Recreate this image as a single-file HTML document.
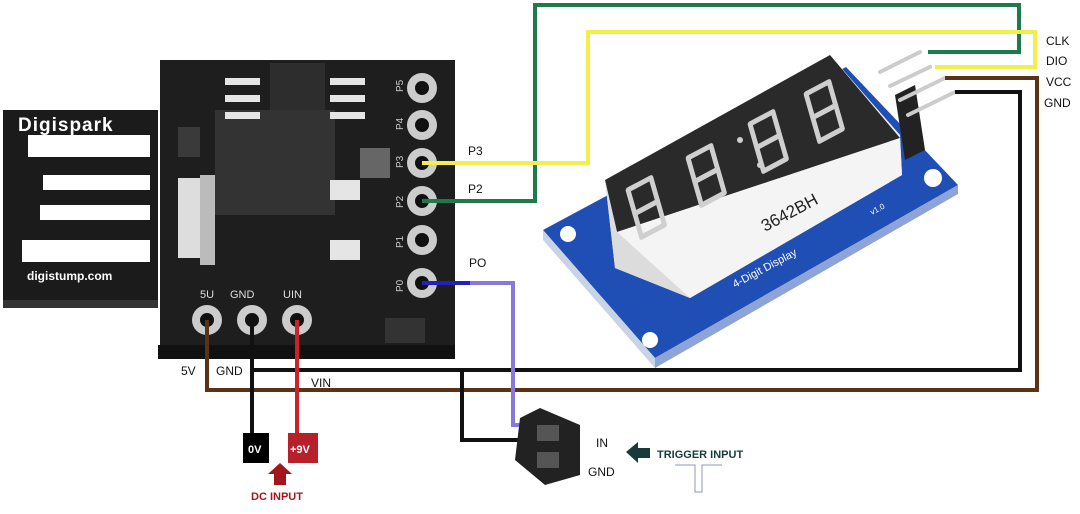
<!DOCTYPE html>
<html><head><meta charset="utf-8"><style>
html,body{margin:0;padding:0;background:#fff;}
svg{display:block;font-family:"Liberation Sans",sans-serif;}
</style></head><body>
<svg width="1080" height="514" viewBox="0 0 1080 514" xmlns="http://www.w3.org/2000/svg">
<rect width="1080" height="514" fill="#fff"/>
<!-- Display module -->
<polygon points="543,230 846,67 958,185 655,358" fill="#1f4fb5"/>
<polygon points="543,230 655,358 655,368 543,240" fill="#c9d3e6"/>
<polygon points="655,358 958,185 958,194 655,368" fill="#8ea4d6"/>
<circle cx="568" cy="234" r="8" fill="#fff"/>
<circle cx="650" cy="340" r="8" fill="#fff"/>
<circle cx="933" cy="178" r="9" fill="#fff"/>
<!-- display block -->
<polygon points="605,180 830,55 900,135 902,175 690,298 615,268" fill="#ececec"/>
<polygon points="605,180 830,55 900,138 617,232" fill="#2a2a2a"/>
<polygon points="617,232 900,138 902,175 690,298" fill="#f4f4f4"/>
<polygon points="605,180 617,232 690,298 615,268" fill="#dcdcdc"/>
<g fill="none" stroke="#cfcfcf" stroke-width="5" stroke-linejoin="round">
<g transform="translate(628,190) rotate(-28) skewX(-12)"><rect x="0" y="0" width="26" height="24"/><rect x="0" y="24" width="26" height="24"/></g>
<g transform="translate(688,158) rotate(-28) skewX(-12)"><rect x="0" y="0" width="26" height="24"/><rect x="0" y="24" width="26" height="24"/></g>
<g transform="translate(750,124) rotate(-28) skewX(-12)"><rect x="0" y="0" width="26" height="24"/><rect x="0" y="24" width="26" height="24"/></g>
<g transform="translate(806,94) rotate(-28) skewX(-12)"><rect x="0" y="0" width="26" height="24"/><rect x="0" y="24" width="26" height="24"/></g>
</g>
<circle cx="740" cy="140" r="3" fill="#cfcfcf"/><circle cx="760" cy="165" r="3" fill="#cfcfcf"/>
<text x="0" y="0" font-size="17" fill="#222" transform="translate(765,232) rotate(-28)">3642BH</text>
<text x="0" y="0" font-size="11" fill="#fff" transform="translate(735,288) rotate(-28)">4-Digit Display</text>
<text x="0" y="0" font-size="8" fill="#fff" transform="translate(872,215) rotate(-28)">v1.0</text>
<!-- header -->
<polygon points="895,95 915,85 925,150 905,160" fill="#222"/>
<g stroke="#ccc" stroke-width="4" stroke-linecap="round">
<line x1="880" y1="72" x2="920" y2="52"/><line x1="890" y1="86" x2="930" y2="67"/>
<line x1="900" y1="100" x2="945" y2="78"/><line x1="908" y1="115" x2="955" y2="92"/>
</g>
<!-- Digispark USB tab -->
<rect x="3" y="110" width="155" height="190" fill="#1b1b1b"/>
<rect x="3" y="300" width="155" height="8" fill="#333"/>
<text x="18" y="131" font-size="19" font-weight="bold" fill="#fff" letter-spacing="1">Digispark</text>
<rect x="28" y="135" width="122" height="22" fill="#fff"/>
<rect x="43" y="175" width="107" height="15" fill="#fff"/>
<rect x="40" y="205" width="110" height="15" fill="#fff"/>
<rect x="22" y="240" width="128" height="22" fill="#fff"/>
<text x="27" y="280" font-size="12" font-weight="bold" fill="#fff">digistump.com</text>
<!-- board -->
<rect x="160" y="60" width="295" height="298" fill="#1e1e1e"/>
<rect x="158" y="345" width="297" height="14" fill="#111"/>
<rect x="270" y="63" width="55" height="70" fill="#2d2d2d"/>
<rect x="215" y="110" width="120" height="105" fill="#333"/>
<rect x="178" y="127" width="22" height="30" fill="#3a3a3a"/>
<rect x="178" y="178" width="30" height="80" fill="#ddd"/>
<rect x="200" y="175" width="15" height="90" fill="#bbb"/>
<g fill="#e5e5e5"><rect x="225" y="78" width="35" height="7"/><rect x="225" y="95" width="35" height="7"/><rect x="225" y="112" width="35" height="7"/><rect x="330" y="78" width="35" height="7"/><rect x="330" y="95" width="35" height="7"/><rect x="330" y="112" width="35" height="7"/><rect x="330" y="180" width="30" height="20"/><rect x="330" y="240" width="30" height="20"/><rect x="360" y="148" width="30" height="30" fill="#666"/></g>
<text x="200" y="298" font-size="11" fill="#ddd">5U</text>
<text x="230" y="298" font-size="11" fill="#ddd">GND</text>
<text x="283" y="298" font-size="11" fill="#ddd">UIN</text>
<g fill="#ccc"><circle cx="207" cy="320" r="15"/><circle cx="252" cy="320" r="15"/><circle cx="297" cy="320" r="15"/></g>
<g fill="#111"><circle cx="207" cy="320" r="7"/><circle cx="252" cy="320" r="7"/><circle cx="297" cy="320" r="7"/></g>
<g fill="#ccc"><circle cx="422" cy="88" r="15"/><circle cx="422" cy="125" r="15"/><circle cx="422" cy="163" r="15"/><circle cx="422" cy="201" r="15"/><circle cx="422" cy="240" r="15"/><circle cx="422" cy="283" r="15"/></g>
<g fill="#111"><circle cx="422" cy="88" r="7"/><circle cx="422" cy="125" r="7"/><circle cx="422" cy="163" r="7"/><circle cx="422" cy="201" r="7"/><circle cx="422" cy="240" r="7"/><circle cx="422" cy="283" r="7"/></g>
<g font-size="10" fill="#ccc"><text transform="translate(403,92) rotate(-90)">P5</text><text transform="translate(403,130) rotate(-90)">P4</text><text transform="translate(403,168) rotate(-90)">P3</text><text transform="translate(403,208) rotate(-90)">P2</text><text transform="translate(403,248) rotate(-90)">P1</text><text transform="translate(403,292) rotate(-90)">P0</text></g>
<rect x="385" y="318" width="40" height="25" fill="#333"/>
<!-- wires -->
<g fill="none" stroke-width="4" stroke-linejoin="miter">
<polyline points="422,201 535,201 535,5 1019,5 1019,52 928,52" stroke="#1e7a4a"/>
<polyline points="422,163 588,163 588,32 1035,32 1035,67 935,67" stroke="#f2ef4a"/>
<polyline points="945,78 1037,78 1037,390 207,390 207,320" stroke="#5a3216"/>
<polyline points="955,92 1020,92 1020,370 252,370" stroke="#111"/>
<polyline points="252,320 252,440" stroke="#111"/>
<polyline points="462,370 462,440 520,440" stroke="#111"/>
<polyline points="297,320 297,435" stroke="#d0202a"/>
<polyline points="422,283 513,283 513,425 522,425" stroke="#8877dd"/>
<polyline points="422,283 470,283" stroke="#2222bb"/>
</g>
<!-- labels -->
<g font-size="12" fill="#111">
<text x="468" y="155">P3</text><text x="468" y="193">P2</text><text x="469" y="267">PO</text>
<text x="181" y="375">5V</text><text x="216" y="375">GND</text><text x="311" y="387">VIN</text>
<text x="1046" y="45">CLK</text><text x="1046" y="65">DIO</text><text x="1046" y="86">VCC</text><text x="1044" y="107">GND</text>
<text x="596" y="447">IN</text><text x="588" y="476">GND</text>
</g>
<rect x="243" y="433" width="26" height="30" fill="#000"/>
<text x="248" y="453" font-size="11" font-weight="bold" fill="#fff">0V</text>
<rect x="288" y="433" width="30" height="30" fill="#b5202a"/>
<text x="290" y="453" font-size="11" font-weight="bold" fill="#fff">+9V</text>
<polygon points="274,485 274,474 268,474 280,463 292,474 286,474 286,485" fill="#a4161e"/>
<text x="251" y="500" font-size="11" font-weight="bold" fill="#a4161e">DC INPUT</text>
<!-- terminal block -->
<polygon points="520,418 540,408 580,425 580,475 545,485 515,460" fill="#222"/>
<rect x="537" y="425" width="22" height="16" fill="#555"/>
<rect x="537" y="452" width="22" height="16" fill="#555"/>
<polygon points="626,452 638,442 638,448 650,448 650,458 638,458 638,463" fill="#1a3a3a"/>
<text x="657" y="458" font-size="11" font-weight="bold" fill="#1a3a3a">TRIGGER INPUT</text>
<polyline points="675,465 695,465 695,492 702,492 702,465 722,465" fill="none" stroke="#8899bb" stroke-width="1"/>
</svg>
</body></html>
